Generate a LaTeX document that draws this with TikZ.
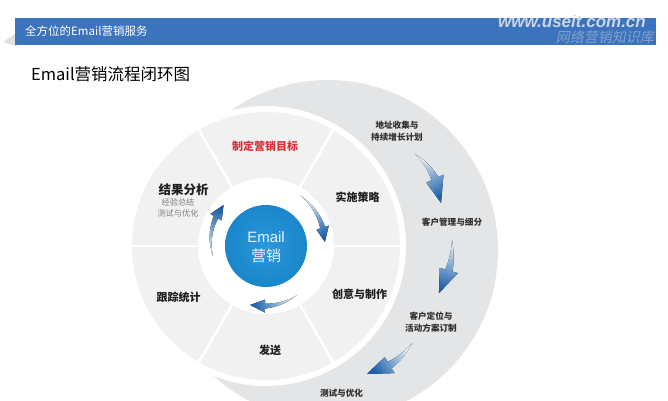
\documentclass[tikz,border=0pt]{standalone}
\usepackage{fontspec}
\setmainfont{Liberation Sans}
\newfontfamily\cjk{Noto Sans CJK SC}
\newfontfamily\cjkit[FakeSlant=0.2]{Noto Sans CJK SC}
\newfontfamily\webfont{Liberation Sans}
\usetikzlibrary{calc}
\definecolor{hdrblue}{HTML}{3B73BC}
\definecolor{crgray}{HTML}{E4E5E7}
\definecolor{seggray}{HTML}{F1F1F2}
\definecolor{emailblue}{HTML}{1A86CB}
\definecolor{emailblueL}{HTML}{2C98DA}
\definecolor{goalred}{HTML}{D4323A}
\definecolor{arrlight}{HTML}{E2EDF8}
\definecolor{arrdark}{HTML}{1C5FA8}
\definecolor{emailtext}{HTML}{E6F4FF}
\definecolor{webgray}{HTML}{CAD6E8}
\definecolor{webblue}{HTML}{86A0C8}
% tapered curved arrow: cx cy r1 r2 a1 a2 shaftHW headHW headDeg
\newcommand\swoosh[9]{%
  \pgfmathsetmacro\swAh{(#6) + ((#6)<(#5) ? (#9) : -(#9))}%
  \pgfmathsetmacro\swRh{(#3) + ((#4)-(#3))*(\swAh-(#5))/((#6)-(#5))}%
  \pgfmathsetmacro\swTx{(#1) + (#3)*cos(#5)}%
  \pgfmathsetmacro\swTy{(#2) + (#3)*sin(#5)}%
  \pgfmathsetmacro\swHx{(#1) + (#4)*cos(#6)}%
  \pgfmathsetmacro\swHy{(#2) + (#4)*sin(#6)}%
  \pgfmathsetmacro\swAng{atan2(\swHy-\swTy, \swHx-\swTx) + 90}%
  \fill[top color=arrlight, bottom color=arrdark, shading=axis, shading angle=\swAng]
    plot[domain=#5:\swAh, samples=30, variable=\t]
      ({(#1) + ((#3) + ((#4)-(#3))*(\t-(#5))/((#6)-(#5)) + (#7)*(\t-(#5))/(\swAh-(#5)))*cos(\t)},
       {(#2) + ((#3) + ((#4)-(#3))*(\t-(#5))/((#6)-(#5)) + (#7)*(\t-(#5))/(\swAh-(#5)))*sin(\t)})
    -- ({(#1) + (\swRh + (#8))*cos(\swAh)}, {(#2) + (\swRh + (#8))*sin(\swAh)})
    -- (\swHx, \swHy)
    -- ({(#1) + (\swRh - (#8))*cos(\swAh)}, {(#2) + (\swRh - (#8))*sin(\swAh)})
    -- plot[domain=\swAh:#5, samples=30, variable=\t]
      ({(#1) + ((#3) + ((#4)-(#3))*(\t-(#5))/((#6)-(#5)) - (#7)*(\t-(#5))/(\swAh-(#5)))*cos(\t)},
       {(#2) + ((#3) + ((#4)-(#3))*(\t-(#5))/((#6)-(#5)) - (#7)*(\t-(#5))/(\swAh-(#5)))*sin(\t)})
    -- cycle;
}
\tikzset{
  seglabel/.style={font=\cjk\bfseries\fontsize{11}{13}\selectfont, text=black!88, inner sep=0pt},
  crlabel/.style={font=\cjk\bfseries\fontsize{8.6}{12}\selectfont, text=black!82, align=center, inner sep=0pt},
  sublabel/.style={font=\cjk\fontsize{8.2}{10.5}\selectfont, text=black!50, align=center, inner sep=0pt},
  sepline/.style={white, line width=2.5pt},
}
\begin{document}
\begin{tikzpicture}[x=1pt,y=1pt]
\useasboundingbox (0,0) rectangle (668,400);
\clip (0,0) rectangle (668,400);
\fill[white] (0,0) rectangle (668,400);
% header
\fill[black!12] (3,358) -- (15,366) -- (15,355) -- (22,352) -- cycle;
\fill[hdrblue] (15,355) rectangle (656,382);
\node[anchor=west, font=\cjk\fontsize{11.5}{13}\selectfont, text=white, inner sep=0pt] (hdr) at (25,369) {全方位的Email营销服务};
\node[anchor=base east, font=\webfont\bfseries\itshape\fontsize{17}{19}\selectfont, text=webgray, inner sep=0pt] (web) at (646,372) {www.useit.com.cn};
\node[anchor=east, font=\cjkit\fontsize{14}{16}\selectfont, text=webblue, inner sep=0pt] (webcn) at (654,362.5) {网络营销知识库};
% title
\node[anchor=west, font=\cjk\fontsize{16.5}{19}\selectfont, text=black, inner sep=0pt] (title) at (31,326) {Email营销流程闭环图};
% crescent
\coordinate (C1) at (266,154);
\coordinate (C2) at (328,150);
\fill[crgray] (C2) circle (170);
\fill[white] (C1) circle (140);
% segment ring
\fill[seggray, even odd rule] (C1) circle (134) (C1) circle (68);
\foreach \a in {0,60,...,300}
  \draw[sepline] ($(C1)+(\a:66)$) -- ($(C1)+(\a:136)$);
% center
\shade[inner color=emailblueL, outer color=emailblue] (C1) circle (41);
\node[font=\fontsize{15}{17}\selectfont, text=emailtext, inner sep=0pt] (em1) at (266,163) {Email};
\node[font=\cjk\fontsize{15}{17}\selectfont, text=emailtext, inner sep=0pt] (em2) at (266,144) {营销};
% inner arrows
\swoosh{266}{154}{61}{59}{56}{4}{2.5}{6.5}{14}
\swoosh{266}{154}{58}{61}{-58}{-105}{2.5}{6.5}{14}
\swoosh{266}{154}{54}{59}{191}{136}{2.5}{6.5}{14}
% crescent arrows
\swoosh{375.5}{193.7}{65.5}{65.6}{53}{3}{3.8}{9.5}{22}
\swoosh{363.9}{153.5}{88.3}{88.3}{4.2}{-31.8}{3.8}{9.5}{16}
\swoosh{353}{94.5}{69.9}{69.9}{-32.4}{-78.4}{3.8}{9.5}{20}
% segment labels
\node[seglabel, text=goalred] (goal) at (265,254) {制定营销目标};
\node[seglabel] (impl) at (357.5,203) {实施策略};
\node[seglabel] (create) at (359.5,106) {创意与制作};
\node[seglabel] (send) at (270,50) {发送};
\node[seglabel] (track) at (178.5,103) {跟踪统计};
\node[seglabel, font=\cjk\bfseries\fontsize{12.5}{14}\selectfont] (result) at (183.5,210) {结果分析};
\node[sublabel] (resultsub) at (178,192) {经验总结\\测试与优化};
% crescent labels
\node[crlabel] (addr) at (397,269) {地址收集与\\持续增长计划};
\node[crlabel] (cust) at (452,178) {客户管理与细分};
\node[crlabel] (target) at (431,77.5) {客户定位与\\活动方案订制};
\node[crlabel] (test) at (341.5,7) {测试与优化};
\end{tikzpicture}
\end{document}
